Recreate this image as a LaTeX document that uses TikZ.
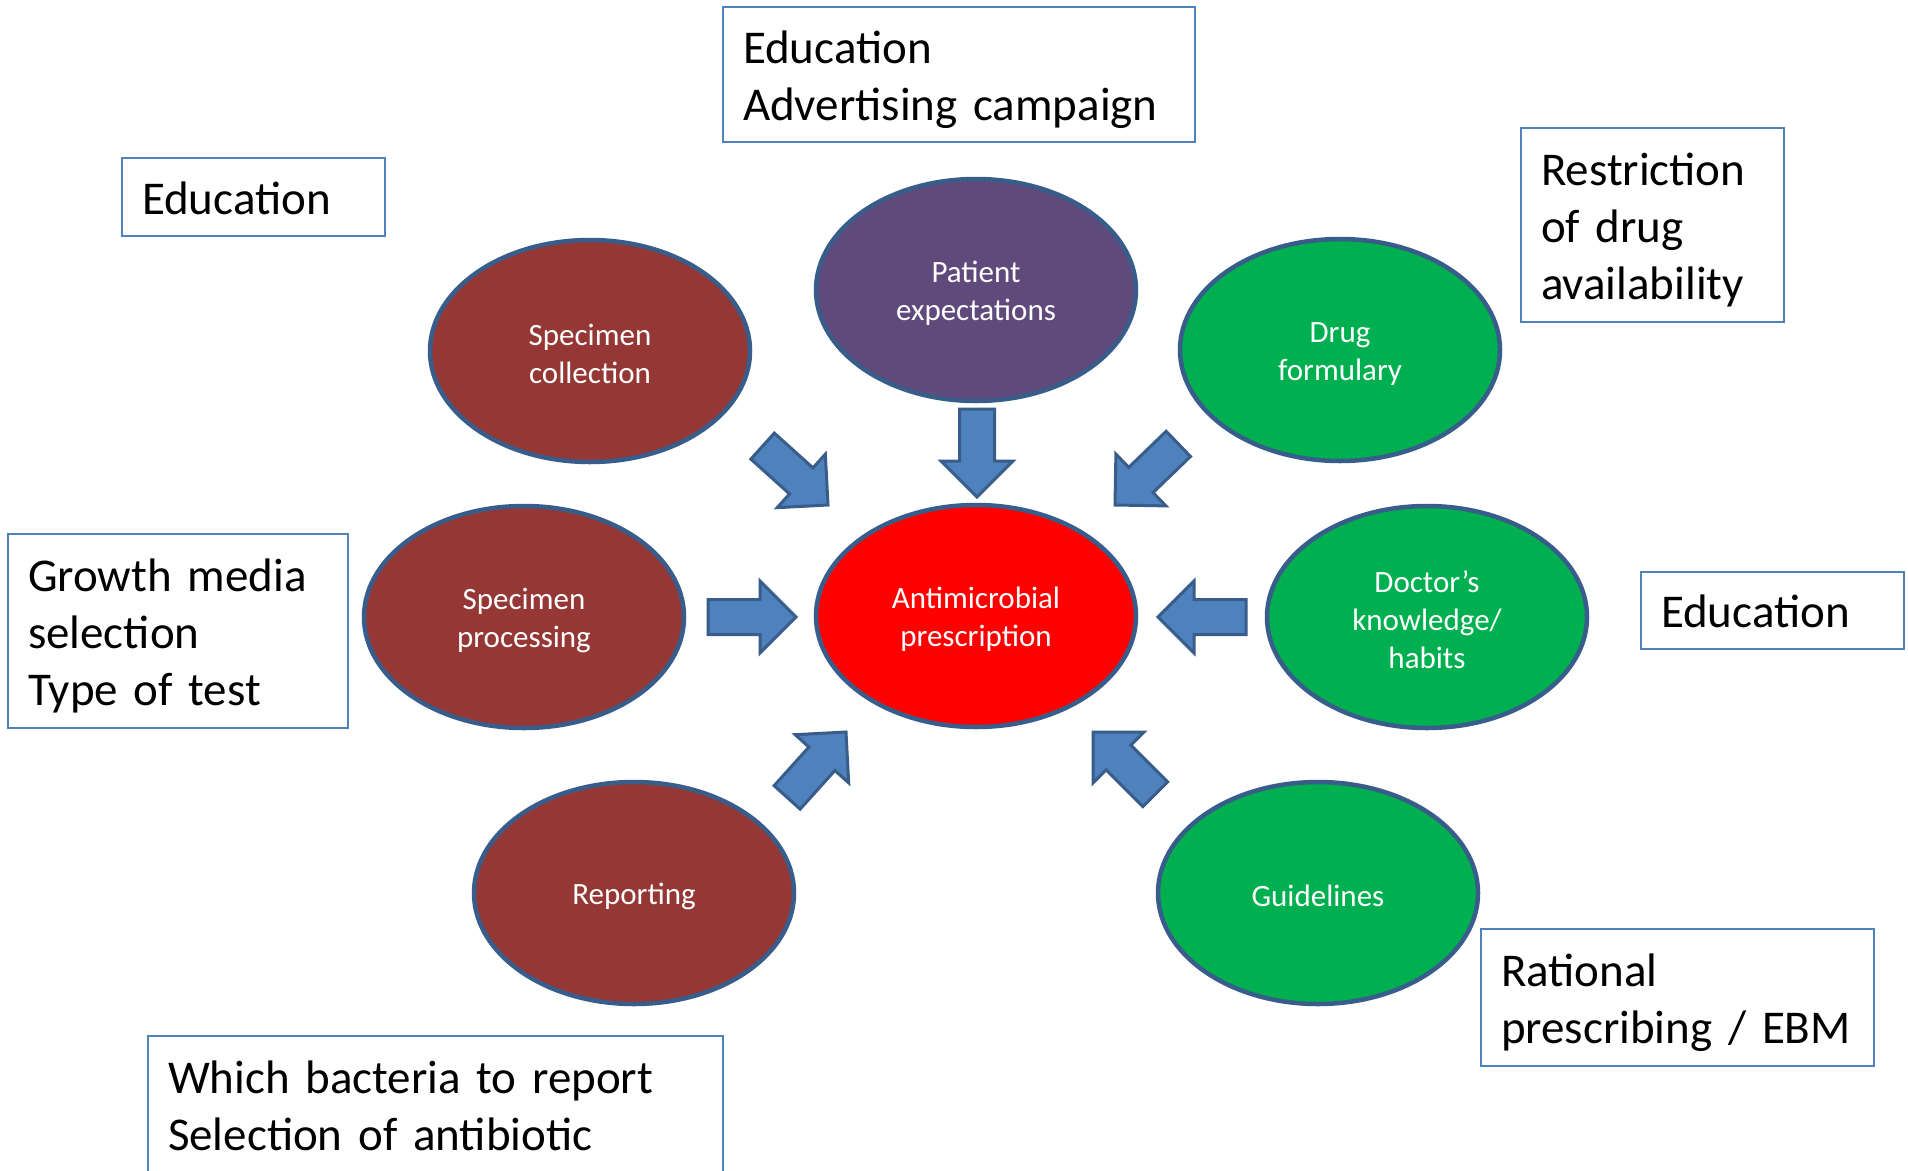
\documentclass[tikz,border=0pt]{standalone}
\usepackage{fontspec}
\setmainfont{Carlito}
\usetikzlibrary{shapes.geometric}
\definecolor{brn}{HTML}{953735}
\definecolor{prp}{HTML}{604A7B}
\definecolor{grn}{HTML}{00B050}
\definecolor{rd}{HTML}{FF0000}
\definecolor{edgeblue}{HTML}{385D8A}
\definecolor{fillblue}{HTML}{4F81BD}
\newcommand\ovaltop{\rule{0pt}{28pt}}
\newcommand\boxtop{\rule{0pt}{43pt}}
\newcommand\boxtopone{\rule{0pt}{35pt}}
\newcommand\boxtopb{\rule{0pt}{37pt}}
\tikzset{
  oval/.style={ellipse, draw=edgeblue, line width=4.5pt, minimum width=320pt, minimum height=222pt,
    inner sep=0pt, text=white, align=center, font=\fontsize{31}{38}\selectfont},
  tbox/.style={rectangle, draw=fillblue, line width=2pt, fill=white, inner xsep=20pt, inner ysep=0pt,
    align=left, text=black, font=\fontsize{47}{57}\selectfont},
  barrow/.pic={\draw[fill=fillblue, draw=edgeblue, line width=3pt, line join=miter]
    (0,0) -- (-36,36) -- (-36,17.5) -- (-88,17.5) -- (-88,-17.5) -- (-36,-17.5) -- (-36,-36) -- cycle;}
}
\begin{document}
\begin{tikzpicture}[x=1pt, y=-1pt]
\clip (0,0) rectangle (1908,1170);
\fill[white] (0,0) rectangle (1908,1170);

% ellipses
\node[oval, fill=brn] (sc) at (590,351) {\ovaltop Specimen\\collection};
\node[oval, fill=prp] (pe) at (976,290) {\ovaltop Patient\\expectations};
\node[oval, fill=grn] (df) at (1340,350) {\ovaltop Drug\\formulary};
\node[oval, fill=brn] (sp) at (524,617) {\ovaltop Specimen\\processing};
\node[oval, fill=rd]  (am) at (976,616) {\ovaltop Antimicrobial\\prescription};
\node[oval, fill=grn] (dk) at (1427,617) {\ovaltop Doctor’s\\knowledge/\\habits};
\node[oval, fill=brn] (rp) at (634,893) {\ovaltop Reporting};
\node[oval, fill=grn] (gl) at (1318,893) {\ovaltop Guidelines};

% block arrows
\pic[rotate=-42]  (a1) at (828,505) {barrow};
\pic[rotate=-90]  (a2) at (977,497) {barrow};
\pic[rotate=-136] (a3) at (1115,505) {barrow};
\pic[rotate=0]    (a4) at (796,617) {barrow};
\pic[rotate=180]  (a5) at (1158,617) {barrow};
\pic[rotate=48]   (a6) at (846,732) {barrow};
\pic[rotate=135]  (a7) at (1093,732) {barrow};

% text boxes
\node[tbox, text width=432pt, minimum height=135pt] (b1) at (959,74.5) {\boxtop Education\\Advertising campaign};
\node[tbox, text width=223pt, minimum height=78pt] (b2) at (253.5,197) {\boxtopone Education};
\node[tbox, text width=223pt, minimum height=194pt] (b3) at (1652.5,225) {\boxtop Restriction\\of drug\\availability};
\node[tbox, text width=300pt, minimum height=194pt] (b4) at (178,631) {\boxtop Growth media\\selection\\Type of test};
\node[tbox, text width=223pt, minimum height=77pt] (b5) at (1772.5,610.5) {\boxtopone Education};
\node[tbox, text width=353pt, minimum height=137pt] (b6) at (1677.5,997.5) {\boxtop Rational\\\mbox{prescribing / EBM}};
\node[tbox, text width=535pt, minimum height=137pt] (b7) at (435.5,1104) {\boxtopb Which bacteria to report\\Selection of antibiotic};
\end{tikzpicture}
\end{document}
